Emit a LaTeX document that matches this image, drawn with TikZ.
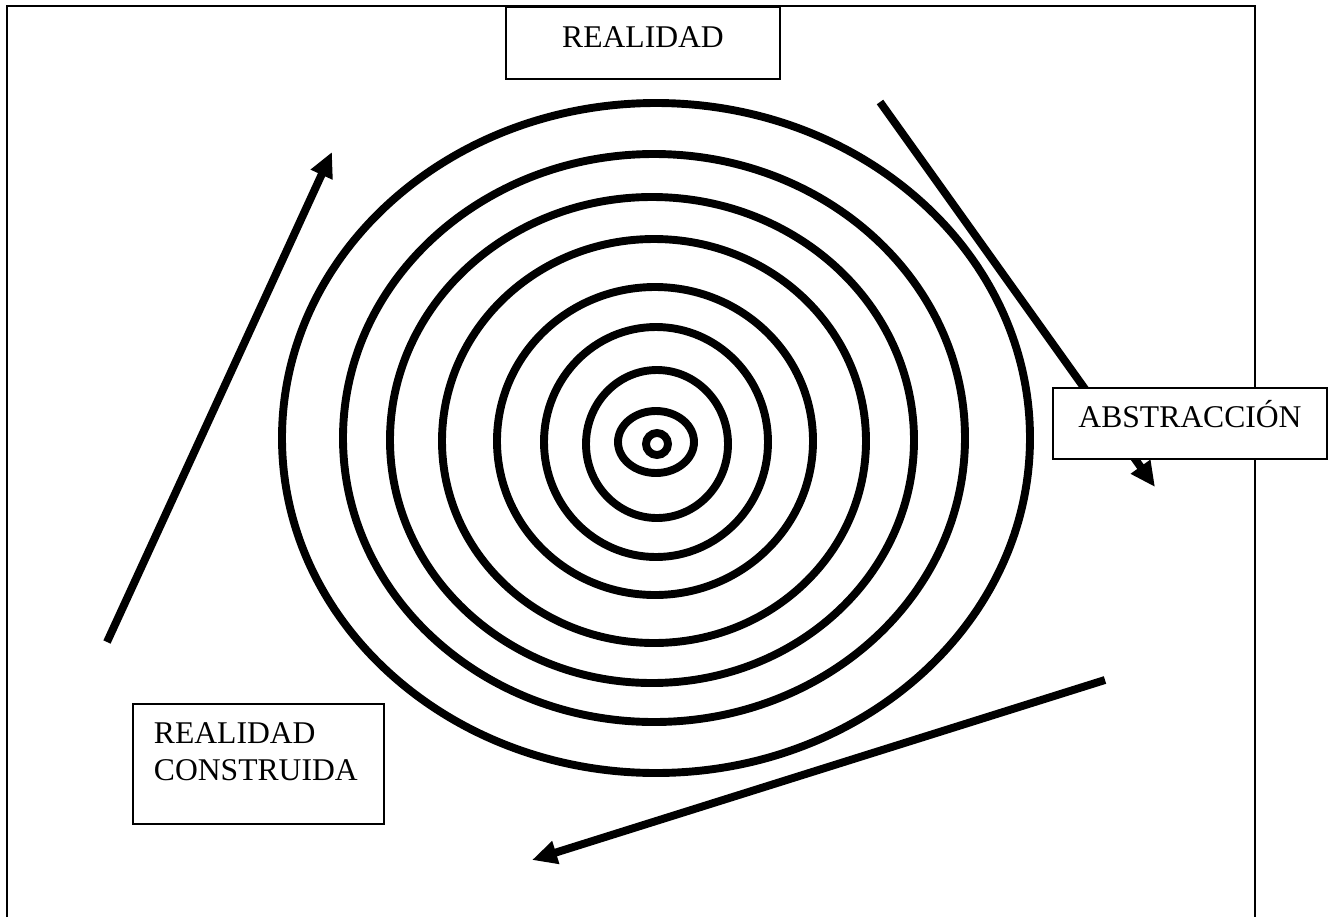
\documentclass[tikz,border=0pt]{standalone}
\usepackage{fontspec}
\setmainfont{Liberation Serif}
\usetikzlibrary{arrows.meta, positioning}

\begin{document}
\begin{tikzpicture}[x=0.02cm, y=-0.02cm,
       ring/.style={line width=4.5pt},
       flow/.style={line width=4.5pt, -{Triangle[length=0.5cm, width=0.45cm]}},
       tag/.style={draw, fill=white, line width=1.1pt, inner sep=0pt, font=\fontsize{18}{21}\selectfont}]
       \useasboundingbox (0,0) rectangle (1333,917);
       \draw[line width=1.1pt] (7,917) -- (7,6) -- (1255,6) -- (1255,917);

       \foreach \cx/\cy/\rx/\ry in {656/438/374/335, 654/438/311/284, 652/440/262/243,
              654/441/212/202, 655/441/158/154, 656/442/112/115, 657/444/71/74,
              656/442/38/31, 657/444/11/11}
              \draw[ring] (\cx,\cy) ellipse [x radius=\rx, y radius=\ry];

       \coordinate (lowleft) at (107,642);
       \coordinate (upleft) at (332,152);
       \coordinate (upright) at (880,102);
       \coordinate (midright) at (1155,487);
       \coordinate (lowright) at (1105,680);
       \coordinate (lowmid) at (532,860);
       \draw[flow] (lowleft) -- (upleft);
       \draw[flow] (upright) -- (midright);
       \draw[flow] (lowright) -- (lowmid);

       \node[tag, anchor=north, minimum width=5.48cm, text height=0.82cm, text depth=0.62cm] (real) at (643,6) {REALIDAD};
       \node[tag, anchor=north, minimum width=5.48cm, text height=0.8cm, text depth=0.62cm] (abstr) at (1190,387) {ABSTRACCIÓN};
       \node[tag, anchor=north west, text width=4.18cm, inner xsep=0.42cm, align=left, text height=0.8cm, text depth=1.6cm] (built) at (132,703) {REALIDAD\\CONSTRUIDA};
    \end{tikzpicture}
\end{document}
